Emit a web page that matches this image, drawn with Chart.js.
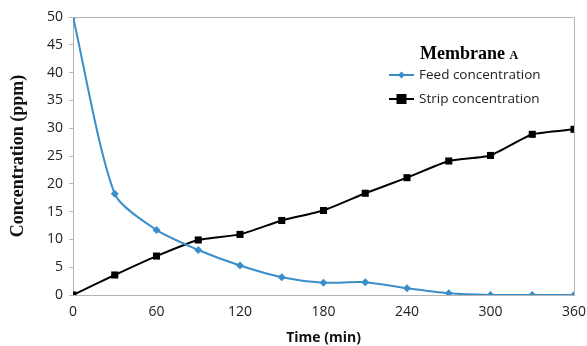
<!DOCTYPE html>
<html><head><meta charset="utf-8">
<script src="https://cdn.jsdelivr.net/npm/chart.js@4.4.1/dist/chart.umd.min.js"></script>
<style>html,body{margin:0;padding:0;background:#fff}#wrap{width:587px;height:346px;position:relative}</style>
</head><body><div id="wrap"><canvas id="c" width="587" height="346"></canvas></div>
<script>
const timeMin = [0,30,60,90,120,150,180,210,240,270,300,330,360];
const feedConc = [50,18.2,11.7,8.1,5.3,3.2,2.2,2.3,1.2,0.3,0,0,0];
const stripConc = [0,3.6,7.0,9.9,10.9,13.4,15.2,18.3,21.1,24.1,25.1,28.9,29.8];
const xTicks = [0,60,120,180,240,300,360];
const yTicks = [0,5,10,15,20,25,30,35,40,45,50];
const legendTitle = ["Membrane", "A"];
const seriesNames = ["Feed concentration","Strip concentration"];

const boxPlugin = {
  id:'box',
  afterDraw(chart){
    const {ctx, chartArea:a} = chart;
    ctx.save();
    ctx.strokeStyle='#b4b4b4'; ctx.lineWidth=1;
    ctx.beginPath();
    ctx.moveTo(a.left, a.top+0.5); ctx.lineTo(a.right+0.5, a.top+0.5); ctx.lineTo(a.right+0.5, a.bottom);
    ctx.stroke();
    ctx.fillStyle='#000';
    ctx.textBaseline='alphabetic';
    ctx.font='bold 18px "Liberation Serif"';
    const t1 = legendTitle[0]+' ';
    const w1 = ctx.measureText(t1).width;
    ctx.font='bold 12px "Liberation Serif"';
    const w2 = ctx.measureText(legendTitle[1]).width;
    const tx = 469 - (w1+w2)/2;
    ctx.font='bold 18px "Liberation Serif"';
    ctx.fillText(t1, tx, 59);
    ctx.font='bold 12px "Liberation Serif"';
    ctx.fillText(legendTitle[1], tx+w1, 59);
    const ds = chart.data.datasets;
    const rows=[75,99];
    ds.forEach((d,i)=>{
      const y=rows[i];
      ctx.strokeStyle=d.borderColor; ctx.lineWidth=2;
      ctx.beginPath(); ctx.moveTo(389,y); ctx.lineTo(414,y); ctx.stroke();
      ctx.fillStyle=d.borderColor;
      if(i===0){
        ctx.beginPath(); ctx.moveTo(401.5,y-3.5); ctx.lineTo(405,y); ctx.lineTo(401.5,y+3.5); ctx.lineTo(398,y); ctx.closePath(); ctx.fill();
      } else {
        ctx.fillRect(396.5,y-5,10,10);
      }
      ctx.fillStyle='#222';
      ctx.font='13.5px "Open Sans"';
      ctx.textBaseline='middle';
      ctx.fillText(d.label, 419, y);
    });
    ctx.restore();
  }
};

new Chart(document.getElementById('c'), {
  type:'line',
  data:{
    datasets:[
      {label:seriesNames[0], data:timeMin.map((t,i)=>({x:t,y:feedConc[i]})), borderColor:'#3b8ec8', backgroundColor:'#3b8ec8', borderWidth:2, pointStyle:'rectRot', pointRadius:4, pointBorderWidth:0, tension:0.25},
      {label:seriesNames[1], data:timeMin.map((t,i)=>({x:t,y:stripConc[i]})), borderColor:'#000000', backgroundColor:'#000000', borderWidth:2, pointStyle:'rect', pointRadius:5, pointBorderWidth:0, tension:0.15}
    ]
  },
  options:{
    responsive:false, animation:false,
    layout:{padding:{left:0,top:17,right:0,bottom:0}},
    plugins:{legend:{display:false}, tooltip:{enabled:false}},
    scales:{
      x:{type:'linear', min:0, max:360,
        afterBuildTicks(s){ s.ticks = xTicks.map(v=>({value:v})); },
        afterFit(s){ s.height=51; s.paddingRight=13; s.paddingLeft=0; },
        grid:{drawOnChartArea:false, drawTicks:false, color:'#b4b4b4'},
        border:{color:'#b4b4b4'},
        ticks:{color:'#222', font:{family:'Open Sans', size:14}, padding:9, maxRotation:0},
        title:{display:true, text:'Time (min)', color:'#111', font:{family:'Open Sans', size:14, weight:'bold'}, padding:{top:2,bottom:0}}
      },
      y:{min:0, max:50,
        afterBuildTicks(s){ s.ticks = yTicks.map(v=>({value:v})); },
        afterFit(s){ s.width=73; },
        grid:{drawOnChartArea:false, tickLength:4, color:'#b4b4b4'},
        border:{color:'#b4b4b4'},
        ticks:{color:'#222', font:{family:'Open Sans', size:14}, padding:6},
        title:{display:true, text:'Concentration (ppm)', color:'#111', font:{family:'Liberation Serif', size:18, weight:'bold'}, padding:{top:8,bottom:4}}
      }
    }
  },
  plugins:[boxPlugin]
});
</script></body></html>
